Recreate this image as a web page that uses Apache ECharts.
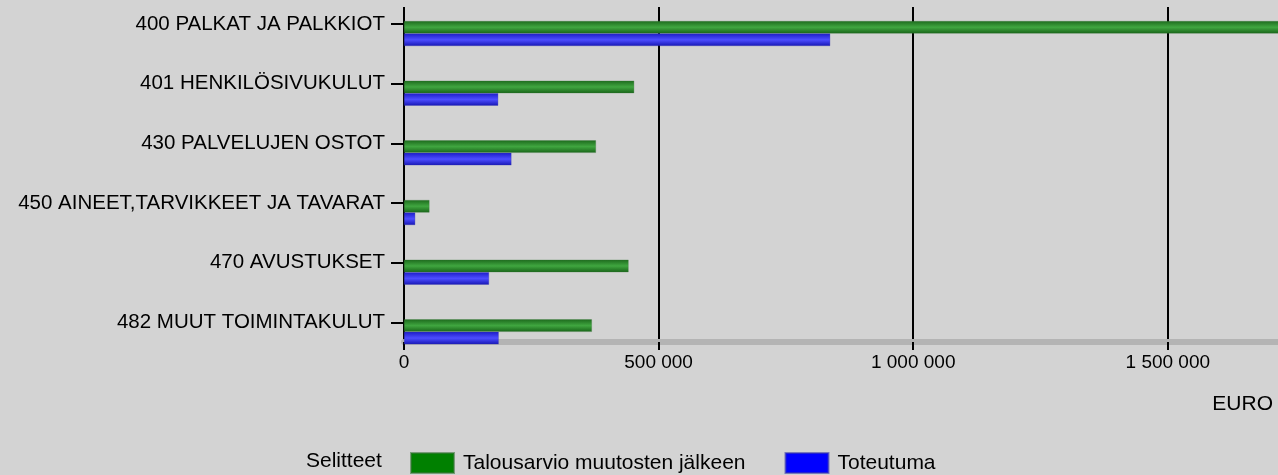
<!DOCTYPE html>
<html>
<head>
<meta charset="utf-8">
<script src="https://cdn.jsdelivr.net/npm/echarts@6/dist/echarts.min.js"></script>
<style>
html,body{margin:0;padding:0;background:#d3d3d3;}
#c{width:1278px;height:475px;}
</style>
</head>
<body>
<div id="c"></div>
<script>
var categories = ['400 PALKAT JA PALKKIOT','401 HENKILÖSIVUKULUT','430 PALVELUJEN OSTOT','450 AINEET,TARVIKKEET JA TAVARAT','470 AVUSTUKSET','482 MUUT TOIMINTAKULUT'];
var budgetValues = [1780000, 452000, 377000, 50000, 441000, 369000];
var actualValues = [837000, 185000, 211000, 22000, 167000, 186000];
var seriesNames = ['Talousarvio muutosten jälkeen', 'Toteutuma'];
var legendTitle = 'Selitteet';
var axisUnit = 'EURO';

var FONT = '"Liberation Sans", Arial, sans-serif';
var X_MAX = 2000000;
var LEFT = 404;
var WIDTH = 1018.4;

function fmt(v){ return String(v).replace(/\B(?=(\d{3})+(?!\d))/g, ' '); }

function grad(c0, c1, c2){
  return new echarts.graphic.LinearGradient(0,0,0,1,[
    {offset:0,color:c0},{offset:0.5,color:c1},{offset:1,color:c2}
  ]);
}

var chart = echarts.init(document.getElementById('c'), null, {renderer:'canvas'});
chart.setOption({
  animation:false,
  backgroundColor:'#d3d3d3',
  textStyle:{fontFamily:FONT},
  grid:[
    {left:LEFT, width:WIDTH, top:7, height:335, outerBoundsMode:'none', containLabel:false},
    {left:LEFT, width:WIDTH, top:-5.8, height:358, outerBoundsMode:'none', containLabel:false},
    {left:LEFT, width:WIDTH, top:3.7, height:358, outerBoundsMode:'none', containLabel:false}
  ],
  xAxis:[
    {gridIndex:0, type:'value', min:0, max:X_MAX, interval:500000,
     axisLine:{show:true, lineStyle:{color:'#b4b4b4', width:6}},
     axisTick:{show:true, length:8, lineStyle:{color:'#000', width:2}},
     splitLine:{show:true, lineStyle:{color:'#000', width:2}},
     axisLabel:{color:'#000', fontSize:19, fontFamily:FONT, margin:11, formatter:fmt}},
    {gridIndex:1, type:'value', min:0, max:X_MAX, show:false},
    {gridIndex:2, type:'value', min:0, max:X_MAX, show:false}
  ],
  yAxis:[
    {gridIndex:0, type:'value', show:false},
    {gridIndex:1, type:'category', data:categories, inverse:true,
     axisLine:{show:false},
     axisTick:{show:true, alignWithLabel:true, length:13, lineStyle:{color:'#000', width:2}},
     axisLabel:{color:'#000', fontSize:20.5, fontFamily:FONT, margin:19}},
    {gridIndex:2, type:'category', data:categories, inverse:true, show:false}
  ],
  legend:{
    left:410, top:452, padding:0, itemWidth:43, itemHeight:20, itemGap:39,
    icon:'rect',
    textStyle:{color:'#000', fontSize:21, fontFamily:FONT, padding:[0,0,0,4]},
    data:[
      {name:seriesNames[0], itemStyle:{color:'#008000'}},
      {name:seriesNames[1], itemStyle:{color:'#0000ff'}}
    ]
  },
  graphic:[
    {type:'text', left:306, top:451, style:{text:legendTitle, fill:'#000', font:'21px '+FONT}},
    {type:'text', right:5, top:394, style:{text:axisUnit, fill:'#000', font:'21px '+FONT}}
  ],
  series:[
    {name:seriesNames[0], type:'bar', xAxisIndex:2, yAxisIndex:2, data:budgetValues,
     barWidth:12.5, barGap:'0%',
     itemStyle:{color:grad('#1d6b1d','#40a640','#186418'), borderColor:'rgba(60,120,60,0.6)', borderWidth:0.5}},
    {name:seriesNames[1], type:'bar', xAxisIndex:2, yAxisIndex:2, data:actualValues,
     barWidth:12.5, barGap:'0%',
     itemStyle:{color:grad('#1c1cc8','#4d4dff','#1616b4'), borderColor:'rgba(60,60,170,0.6)', borderWidth:0.5}}
  ]
});
</script>
</body>
</html>
